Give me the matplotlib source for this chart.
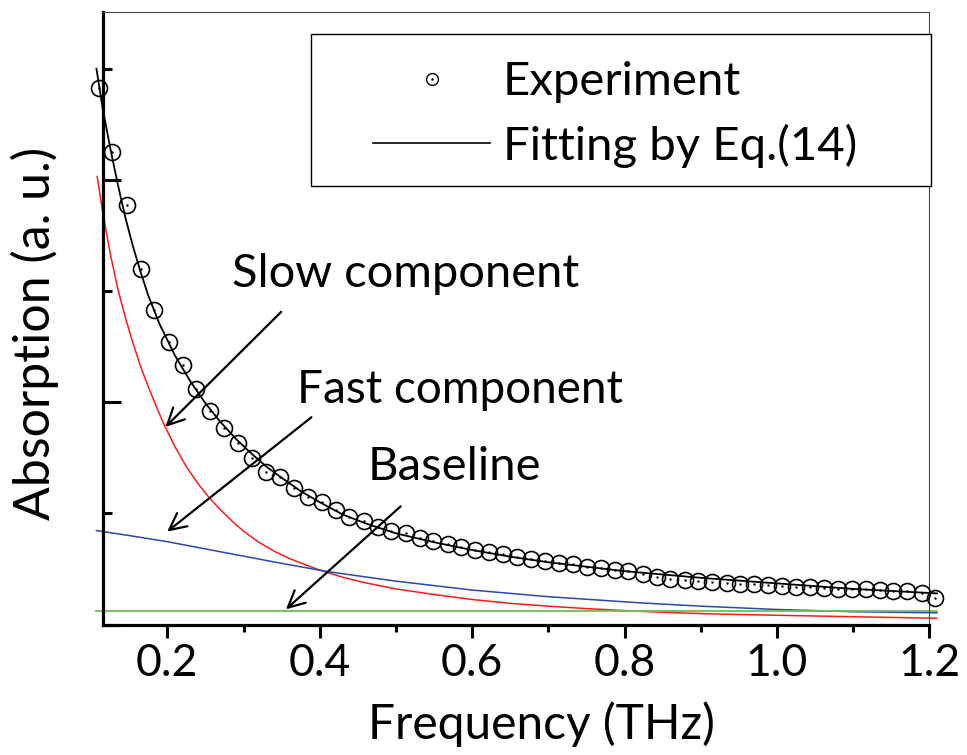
import matplotlib
matplotlib.use("Agg")
import matplotlib.pyplot as plt
from matplotlib.patches import Rectangle
from matplotlib.lines import Line2D
from matplotlib.ticker import MultipleLocator, NullFormatter

plt.rcParams['font.family'] = ['Lato', 'DejaVu Sans']

# experiment points (THz, a.u.)
freq = [0.110, 0.128, 0.147, 0.165, 0.183, 0.202, 0.220, 0.238, 0.256, 0.275,
        0.293, 0.311, 0.330, 0.348, 0.366, 0.385, 0.403, 0.421, 0.439, 0.458,
        0.476, 0.494, 0.513, 0.531, 0.549, 0.568, 0.586, 0.604, 0.622, 0.641,
        0.659, 0.677, 0.696, 0.714, 0.732, 0.751, 0.769, 0.787, 0.805, 0.824,
        0.842, 0.860, 0.879, 0.897, 0.915, 0.934, 0.952, 0.970, 0.988, 1.007,
        1.025, 1.043, 1.062, 1.080, 1.098, 1.117, 1.135, 1.153, 1.171, 1.190,
        1.208]
absorb = [4.83, 4.25, 3.77, 3.20, 2.83, 2.54, 2.33, 2.12, 1.92, 1.77,
          1.63, 1.50, 1.37, 1.33, 1.23, 1.15, 1.10, 1.03, 0.97, 0.93,
          0.88, 0.84, 0.82, 0.78, 0.75, 0.72, 0.70, 0.67, 0.65, 0.63,
          0.61, 0.59, 0.57, 0.55, 0.54, 0.52, 0.51, 0.49, 0.48, 0.45,
          0.425, 0.41, 0.40, 0.395, 0.385, 0.375, 0.365, 0.36, 0.353, 0.344,
          0.339, 0.335, 0.326, 0.32, 0.32, 0.32, 0.308, 0.305, 0.30, 0.285,
          0.24]

# fitting curve
fit_x = [0.107, 0.115, 0.125, 0.135, 0.145, 0.155, 0.165, 0.175, 0.19, 0.21,
         0.23, 0.25, 0.27, 0.29, 0.31, 0.33, 0.35, 0.375, 0.40, 0.43, 0.46,
         0.50, 0.55, 0.60, 0.65, 0.70, 0.80, 0.90, 1.00, 1.10, 1.21]
fit_y = [5.00, 4.65, 4.29, 3.96, 3.66, 3.40, 3.17, 2.96, 2.70, 2.42,
         2.19, 1.99, 1.82, 1.67, 1.54, 1.42, 1.32, 1.20, 1.10, 0.99, 0.91,
         0.82, 0.74, 0.67, 0.61, 0.56, 0.48, 0.42, 0.37, 0.32, 0.28]

# slow component
slow_x = [0.108, 0.115, 0.125, 0.135, 0.145, 0.155, 0.165, 0.175, 0.185, 0.195,
          0.21, 0.225, 0.24, 0.255, 0.27, 0.285, 0.30, 0.32, 0.34, 0.36,
          0.38, 0.40, 0.43, 0.46, 0.50, 0.55, 0.60, 0.65, 0.70, 0.75,
          0.80, 0.85, 0.90, 0.95, 1.00, 1.10, 1.21]
slow_y = [4.03, 3.72, 3.34, 3.02, 2.76, 2.53, 2.32, 2.14, 1.97, 1.81,
          1.60, 1.42, 1.27, 1.14, 1.03, 0.93, 0.84, 0.74, 0.66, 0.595,
          0.54, 0.49, 0.425, 0.375, 0.32, 0.27, 0.225, 0.19, 0.165, 0.143,
          0.125, 0.11, 0.098, 0.09, 0.083, 0.07, 0.056]

# fast component
fast_x = [0.107, 0.15, 0.20, 0.25, 0.30, 0.35, 0.41, 0.50, 0.60, 0.70,
          0.82, 0.90, 1.00, 1.10, 1.21]
fast_y = [0.845, 0.80, 0.745, 0.68, 0.615, 0.55, 0.476, 0.39, 0.31, 0.25,
          0.195, 0.165, 0.135, 0.115, 0.105]

# baseline
base_x = [0.107, 1.21]
base_y = [0.117, 0.117]

W, H = 967, 755
fig = plt.figure(figsize=(W / 100, H / 100), dpi=100)
ax = fig.add_axes([103 / W, 1 - 624.5 / H, 826.3 / W, 612.5 / H])

ax.plot(slow_x, slow_y, color='#ff1a1a', lw=1.1, clip_on=False, zorder=2)
ax.plot(fast_x, fast_y, color='#2a46b0', lw=1.1, clip_on=False, zorder=2)
ax.plot(base_x, base_y, color='#6cbf4e', lw=1.3, clip_on=False, zorder=2)
ax.plot(fit_x, fit_y, color='black', lw=1.3, clip_on=False, zorder=3)
ax.plot(freq, absorb, 'o', mfc='none', mec='black', ms=11.5, mew=1.2,
        clip_on=False, zorder=4)
ax.plot(freq, absorb, '.', color='black', ms=1.5, clip_on=False, zorder=4)

ax.set_xlim(0.1156, 1.2)
ax.set_ylim(0, 5.51)

ax.xaxis.set_major_locator(MultipleLocator(0.2))
ax.xaxis.set_minor_locator(MultipleLocator(0.1))
ax.yaxis.set_major_locator(MultipleLocator(2))
ax.yaxis.set_minor_locator(MultipleLocator(1))
ax.yaxis.set_major_formatter(NullFormatter())
ax.tick_params(axis='x', which='major', direction='out', length=9, width=2.2,
               labelsize=32, pad=4)
ax.tick_params(axis='x', which='minor', direction='out', length=5, width=2.2)
ax.tick_params(axis='y', which='major', direction='in', length=13, width=2.2)
ax.tick_params(axis='y', which='minor', direction='in', length=6.5, width=2.2)

for s in ['left', 'bottom']:
    ax.spines[s].set_linewidth(2.3)
for s in ['top', 'right']:
    ax.spines[s].set_linewidth(0.8)
    ax.spines[s].set_color('#444444')

ax.set_xlabel('Frequency (THz)', fontsize=34.5, va='center')
ax.xaxis.set_label_coords(0.530, -0.162)
ax.set_ylabel('Absorption (a. u.)', fontsize=36, va='center')
ax.yaxis.set_label_coords(-0.082, 0.476)

# annotations
arrow = dict(arrowstyle='->', lw=1.6, color='black', mutation_scale=30)
ax.annotate('', xy=(0.195, 1.76), xytext=(0.352, 2.83), arrowprops=arrow)
ax.annotate('', xy=(0.197, 0.82), xytext=(0.392, 1.88), arrowprops=arrow)
ax.annotate('', xy=(0.353, 0.12), xytext=(0.509, 1.08), arrowprops=arrow)
ax.text(0.285, 3.035, 'Slow component', fontsize=33.8, va='baseline')
ax.text(0.370, 1.99, 'Fast component', fontsize=33, va='baseline')
ax.text(0.463, 1.30, 'Baseline', fontsize=34, va='baseline')

# legend box drawn in figure pixels
def fx(px):
    return px / W

def fy(py):
    return 1 - py / H

fig.patches.append(Rectangle((fx(311), fy(186)), 620 / W, 152 / H,
                             transform=fig.transFigure, fill=True, fc='white',
                             ec='black', lw=1.0, zorder=5))
fig.lines.append(Line2D([fx(432)], [fy(79)], marker='o', mfc='none', mec='black',
                        ms=8.5, mew=1.0, transform=fig.transFigure, zorder=6))
fig.lines.append(Line2D([fx(432)], [fy(79)], marker='.', color='black',
                        ms=1.5, transform=fig.transFigure, zorder=6))
fig.lines.append(Line2D([fx(373), fx(490)], [fy(143), fy(143)], color='black',
                        lw=1.2, transform=fig.transFigure, zorder=6))
fig.text(fx(503), fy(95), 'Experiment', fontsize=34, va='baseline', zorder=6)
fig.text(fx(503), fy(160), 'Fitting by Eq.(14)', fontsize=34, va='baseline', zorder=6)

fig.savefig('out.png', dpi=100)
